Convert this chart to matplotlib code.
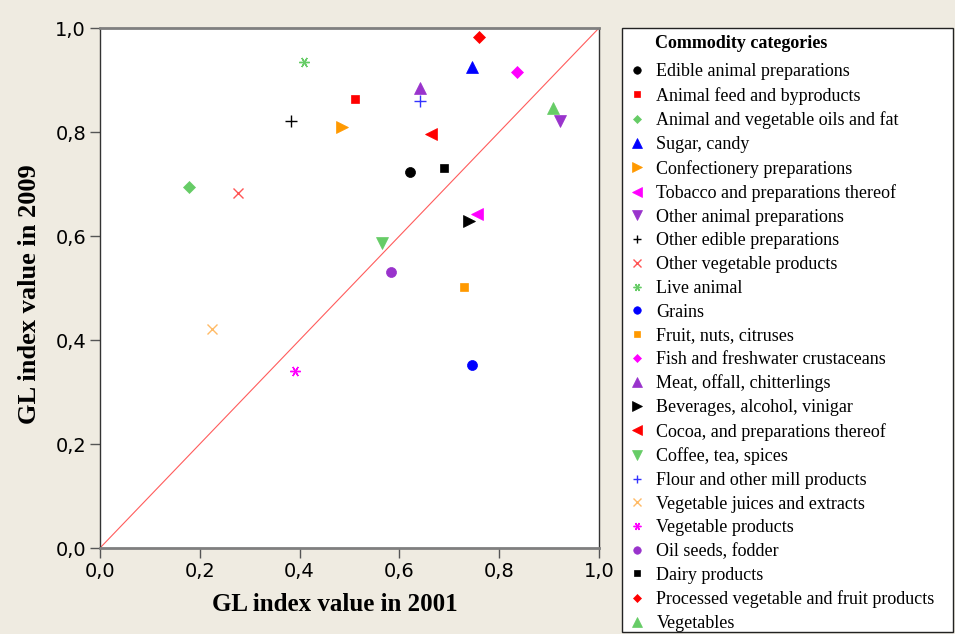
import matplotlib
matplotlib.use("Agg")
import matplotlib.pyplot as plt
from matplotlib.patches import Rectangle
from matplotlib.ticker import FuncFormatter

# GL index per commodity category
categories = [
    "Edible animal preparations",
    "Animal feed and byproducts",
    "Animal and vegetable oils and fat",
    "Sugar, candy",
    "Confectionery preparations",
    "Tobacco and preparations thereof",
    "Other animal preparations",
    "Other edible preparations",
    "Other vegetable products",
    "Live animal",
    "Grains",
    "Fruit, nuts, citruses",
    "Fish and freshwater crustaceans",
    "Meat, offall, chitterlings",
    "Beverages, alcohol, vinigar",
    "Cocoa, and preparations thereof",
    "Coffee, tea, spices",
    "Flour and other mill products",
    "Vegetable juices and extracts",
    "Vegetable products",
    "Oil seeds, fodder",
    "Dairy products",
    "Processed vegetable and fruit products",
    "Vegetables",
]
gl_2001 = [0.621, 0.511, 0.178, 0.745, 0.484, 0.755, 0.922, 0.383, 0.277, 0.409,
           0.745, 0.730, 0.835, 0.641, 0.740, 0.663, 0.566, 0.641, 0.224, 0.391,
           0.584, 0.689, 0.759, 0.907]
gl_2009 = [0.723, 0.863, 0.694, 0.925, 0.810, 0.642, 0.822, 0.821, 0.683, 0.934,
           0.351, 0.501, 0.915, 0.885, 0.628, 0.797, 0.587, 0.860, 0.422, 0.341,
           0.531, 0.730, 0.983, 0.846]
ticks = [0.0, 0.2, 0.4, 0.6, 0.8, 1.0]

# Minitab-like symbol styles: (marker, colour, size)
GREEN = "#66CC66"
PURPLE = "#9933CC"
ORANGE = "#FF9900"
ASTER = (6, 2, 90)
STYLES = [
    ("o", "black", 7.2),
    ("s", "#FF0000", 6.0),
    ("D", GREEN, 5.8),
    ("^", "#0000FF", 8.8),
    (">", ORANGE, 8.8),
    ("<", "#FF00FF", 8.8),
    ("v", PURPLE, 8.8),
    ("+", "black", 8.0),
    ("x", "#FF5555", 7.5),
    (ASTER, GREEN, 7.5),
    ("o", "#0000FF", 7.2),
    ("s", ORANGE, 6.0),
    ("D", "#FF00FF", 5.8),
    ("^", PURPLE, 8.8),
    (">", "black", 8.8),
    ("<", "#FF0000", 8.8),
    ("v", GREEN, 8.8),
    ("+", "#3333FF", 8.0),
    ("x", "#FFBB66", 7.5),
    (ASTER, "#FF00FF", 7.5),
    ("o", PURPLE, 7.2),
    ("s", "black", 6.0),
    ("D", "#FF0000", 5.8),
    ("^", GREEN, 8.8),
]

BG = "#EFEBE1"
W, H = 955, 634

fig = plt.figure(figsize=(W / 100, H / 100), dpi=100, facecolor=BG)
ax = fig.add_axes([100 / W, 1 - 548 / H, 499 / W, 520 / H])
ax.set_facecolor("white")

# 45-degree reference line
ax.plot([0, 1], [0, 1], color="#FF3333", linewidth=0.8, alpha=0.8, zorder=1)

for name, x, y, (m, c, s) in zip(categories, gl_2001, gl_2009, STYLES):
    thin = m in ("+", "x", ASTER)
    ax.plot([x], [y], linestyle="none", marker=m, color=c, markersize=s,
            markeredgewidth=1.0 if thin else 0.5, markeredgecolor=c,
            label=name, zorder=3)

ax.set_xlim(0, 1)
ax.set_ylim(0, 1)
ax.set_xticks(ticks)
ax.set_yticks(ticks)
comma = FuncFormatter(lambda v, _: f"{v:.1f}".replace(".", ","))
ax.xaxis.set_major_formatter(comma)
ax.yaxis.set_major_formatter(comma)
ax.tick_params(direction="out", length=7, width=1, color="#555555",
               labelsize=14, pad=3)

for side in ("top", "bottom"):
    ax.spines[side].set_color("#7f7f7f")
    ax.spines[side].set_linewidth(2)
for side in ("left", "right"):
    ax.spines[side].set_color("#333333")
    ax.spines[side].set_linewidth(1)

ax.set_xlabel("GL index value in 2001", family="Liberation Serif",
              weight="bold", size=18)
ax.set_ylabel("GL index value in 2009", family="Liberation Serif",
              weight="bold", size=19)
ax.xaxis.set_label_coords(0.471, -0.086)
ax.yaxis.set_label_coords(-0.118, 0.488)

# legend box drawn by hand so the title and entries can be placed freely
fig.patches.append(Rectangle((622 / W, 1 - 632 / H), 331 / W, 604 / H,
                             transform=fig.transFigure, facecolor="white",
                             edgecolor="#222222", linewidth=1.0, zorder=1))
fig.text(655 / W, 1 - 44 / H, "Commodity categories", va="center",
         ha="left", family="Liberation Serif", weight="bold", size=13,
         zorder=6)

handles, labels = ax.get_legend_handles_labels()
fig.legend(
    handles, labels,
    loc="upper left",
    bbox_to_anchor=(622 / W, 1 - 56 / H),
    borderaxespad=0,
    prop={"family": "Liberation Serif", "size": 13},
    markerscale=0.75,
    handlelength=0.9,
    handletextpad=0.6,
    labelspacing=0.37,
    borderpad=0.4,
    frameon=False,
    numpoints=1,
)

fig.savefig("out.png", dpi=100, facecolor=BG)
